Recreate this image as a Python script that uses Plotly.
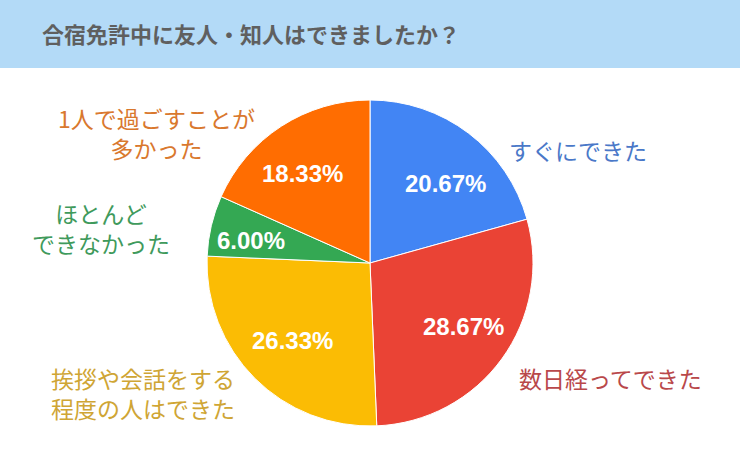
import plotly.graph_objects as go

title = "合宿免許中に友人・知人はできましたか？"
categories = ["すぐにできた", "数日経ってできた", "挨拶や会話をする<br>程度の人はできた",
              "ほとんど<br>できなかった", "1人で過ごすことが<br>多かった"]
values = [20.67, 28.67, 26.33, 6.00, 18.33]
slice_colors = ["#4285F4", "#EA4335", "#FBBC04", "#34A853", "#FF6D01"]
label_colors = ["#4A78C8", "#B9484A", "#CFA534", "#3F9A5C", "#D9782E"]

# text anchor positions (pixels in the 740x463 canvas)
label_pos = [(578, 150), (610, 378), (143, 393), (101, 228), (156, 133)]
pct_pos = [(445, 183), (463, 326), (292, 340), (251, 240), (302, 173)]

W, H = 740, 463
cx, cy, R = 370, 263, 163

fig = go.Figure()
fig.add_trace(go.Pie(
    labels=categories,
    values=values,
    sort=False,
    direction="clockwise",
    rotation=0,
    marker=dict(colors=slice_colors, line=dict(color="white", width=1)),
    textinfo="none",
    hoverinfo="label+percent",
    showlegend=False,
    domain=dict(x=[(cx - R) / W, (cx + R) / W], y=[(H - cy - R) / H, (H - cy + R) / H]),
))

for v, (px, py) in zip(values, pct_pos):
    fig.add_annotation(
        x=px / W, y=1 - py / H, xref="paper", yref="paper",
        text=f"{v:.2f}%", showarrow=False,
        xanchor="center", yanchor="middle",
        font=dict(family="Arial, Liberation Sans", size=24, color="white", weight="bold"),
    )

for cat, col, (px, py) in zip(categories, label_colors, label_pos):
    fig.add_annotation(
        x=px / W, y=1 - py / H, xref="paper", yref="paper",
        text=cat, showarrow=False, align="center",
        xanchor="center", yanchor="middle",
        font=dict(family="Noto Sans CJK JP", size=23, color=col),
    )

fig.add_shape(type="rect", xref="paper", yref="paper", x0=0, x1=1, y0=1 - 68 / H, y1=1,
              fillcolor="#B3DAF7", line=dict(width=0), layer="below")
fig.add_annotation(
    x=40 / W, y=1 - 33 / H, xref="paper", yref="paper", text=title, showarrow=False,
    xanchor="left", yanchor="middle",
    font=dict(family="Noto Sans CJK JP", size=22, color="#5F5F5F", weight="bold"),
)

fig.update_layout(
    width=W, height=H,
    margin=dict(l=0, r=0, t=0, b=0),
    paper_bgcolor="white",
    plot_bgcolor="white",
)

fig.write_html("out.html", config={"displayModeBar": False},
               post_script="document.body.style.margin='0';")
